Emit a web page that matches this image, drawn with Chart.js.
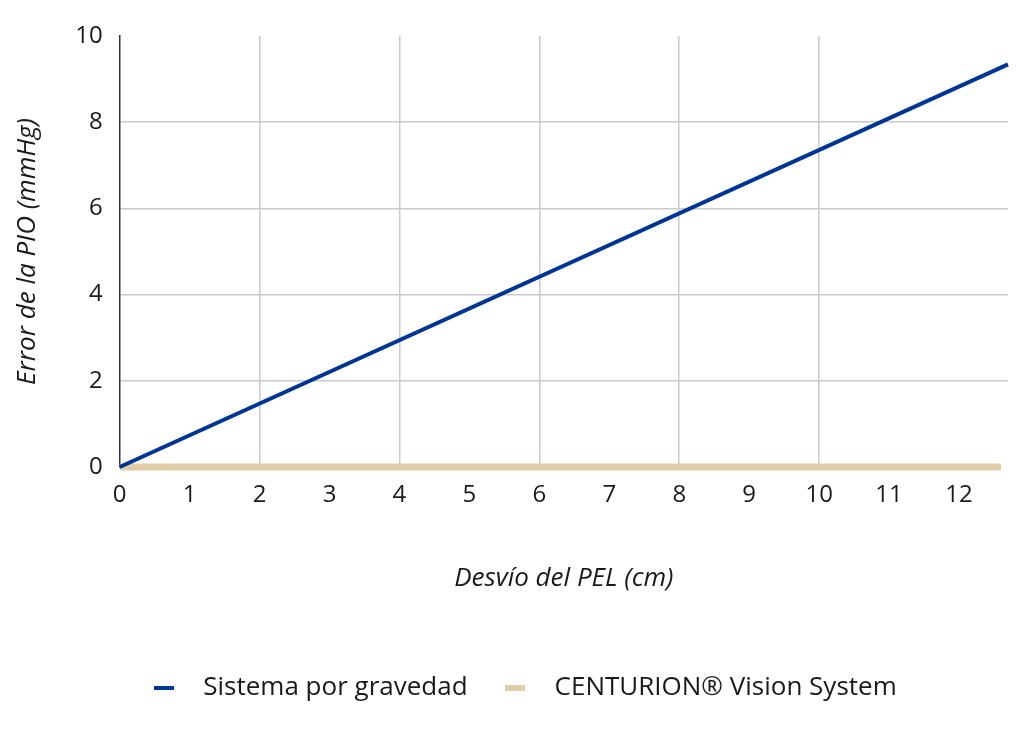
<!DOCTYPE html>
<html>
<head>
<meta charset="utf-8">
<script src="https://cdn.jsdelivr.net/npm/chart.js@4"></script>
<style>
    html, body { margin: 0; padding: 0; background: #fff; }
    #wrap { width: 1024px; height: 731px; }
</style>
</head>
<body>
<div id="wrap"><canvas id="pioChart"></canvas></div>
<script>
// values
const xTickValues = [0, 1, 2, 3, 4, 5, 6, 7, 8, 9, 10, 11, 12];
const yTickValues = [0, 2, 4, 6, 8, 10];
const gravityX = [0, 12.7];
const gravityY = [0, 9.34];
const centurionX = [0, 12.6];
const centurionY = [0, 0];
const seriesLabels = ['Sistema por gravedad', 'CENTURION\u00AE Vision System'];

const BLUE = '#003595';
const TAN = '#E0CCA6';
const GRID = '#c9c9c9';
const TEXT = '#1a1a1a';
const FONT = "'Open Sans', 'Noto Sans', sans-serif";

function toPoints(xs, ys) {
    return xs.map((x, i) => ({ x, y: ys[i] }));
}

// short dash used as legend marker
function dash(color, h) {
    const c = document.createElement('canvas');
    c.width = 20;
    c.height = h;
    const g = c.getContext('2d');
    g.fillStyle = color;
    g.fillRect(0, 0, 20, h);
    return c;
}

// nudge the legend a little right, like the original
const legendShift = {
    id: 'legendShift',
    afterLayout(chart) {
        if (!chart.legend) return;
        chart.legend.left += 13;
        chart.legend.right += 13;
    }
};

const canvas = document.getElementById('pioChart');
new Chart(canvas.getContext('2d'), {
    type: 'line',
    data: {
        datasets: [{
            label: seriesLabels[0],
            data: toPoints(gravityX, gravityY),
            borderColor: BLUE,
            backgroundColor: BLUE,
            borderWidth: 4,
            pointRadius: 0,
            pointStyle: dash(BLUE, 4),
            clip: false,
            order: 0
        }, {
            label: seriesLabels[1],
            data: toPoints(centurionX, centurionY),
            borderColor: TAN,
            backgroundColor: TAN,
            borderWidth: 7,
            pointRadius: 0,
            pointStyle: dash(TAN, 6),
            clip: false,
            order: 1
        }]
    },
    options: {
        responsive: true,
        maintainAspectRatio: false,
        animation: false,
        layout: { padding: { top: 36, right: 16, bottom: 20, left: 0 } },
        scales: {
            x: {
                type: 'linear',
                min: 0,
                max: 12.7,
                afterBuildTicks: s => { s.ticks = xTickValues.map(v => ({ value: v })); },
                ticks: {
                    color: TEXT,
                    font: { family: FONT, size: 24 },
                    padding: 14,
                    maxRotation: 0,
                    autoSkip: false
                },
                grid: {
                    drawTicks: false,
                    color: c => (c.tick && c.tick.value % 2 === 0 && c.tick.value > 0 && c.tick.value < 12) ? GRID : 'rgba(0,0,0,0)',
                    lineWidth: 1.5
                },
                border: { display: false },
                title: {
                    display: true,
                    text: 'Desvío del PEL (cm)',
                    color: TEXT,
                    font: { family: FONT, size: 26, style: 'italic' },
                    padding: { top: 39, bottom: 60 }
                }
            },
            y: {
                min: 0,
                max: 10,
                afterBuildTicks: s => { s.ticks = yTickValues.map(v => ({ value: v })); },
                ticks: {
                    color: TEXT,
                    font: { family: FONT, size: 24 },
                    padding: 17
                },
                grid: {
                    drawTicks: false,
                    color: c => (c.tick && c.tick.value > 0 && c.tick.value < 10) ? GRID : 'rgba(0,0,0,0)',
                    lineWidth: 1.5
                },
                border: { display: true, color: '#333', width: 1.5 },
                title: {
                    display: true,
                    text: 'Error de la PIO (mmHg)',
                    color: TEXT,
                    font: { family: FONT, size: 26, style: 'italic' },
                    padding: { top: 12, bottom: 15 }
                }
            }
        },
        plugins: {
            legend: {
                position: 'bottom',
                labels: {
                    color: TEXT,
                    font: { family: FONT, size: 26 },
                    usePointStyle: true,
                    pointStyleWidth: 53,
                    padding: 21
                }
            },
            tooltip: { enabled: false }
        }
    },
    plugins: [legendShift]
});
</script>
</body>
</html>
